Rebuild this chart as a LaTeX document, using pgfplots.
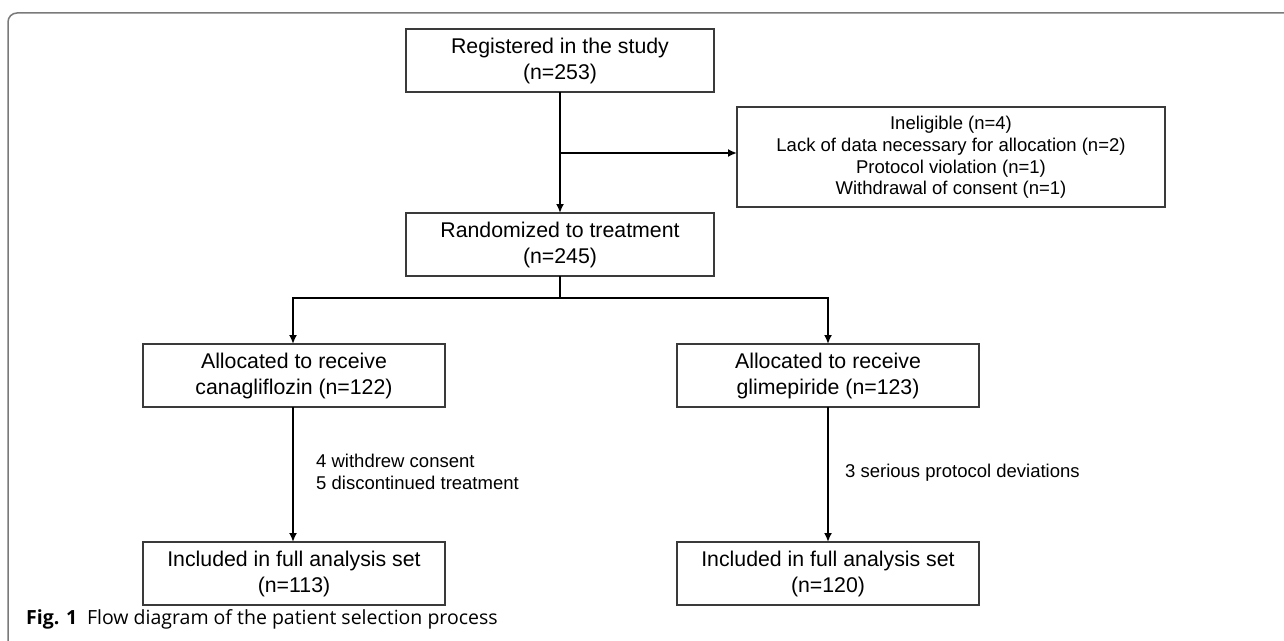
\documentclass[border=0pt]{standalone}
\usepackage{pgfplots}
\pgfplotsset{compat=1.18}
\usepackage{fontspec}
\setmainfont{Liberation Sans}
\newfontfamily\capfont{Open Sans}
\usetikzlibrary{arrows.meta}
\definecolor{boxc}{HTML}{3A3A3A}
\definecolor{framec}{HTML}{7A7A7A}
\begin{document}
\begin{tikzpicture}
\begin{axis}[scale only axis, width=1284bp, height=641bp,
  xmin=0, xmax=1284, ymin=0, ymax=641, y dir=reverse,
  hide axis, clip=false]
% outer frame
\draw[framec, line width=1.5bp, rounded corners=9bp] (axis cs:1290,13) -- (axis cs:8,13) -- (axis cs:8,650);
\tikzset{bx/.style={draw=boxc, line width=1.3bp},
  ar/.style={line width=2.8bp, -{Latex[length=9bp,width=8bp]}},
  big/.style={font=\fontsize{21.3bp}{26.5bp}\selectfont, align=center},
  small/.style={font=\fontsize{18.5bp}{21.8bp}\selectfont}}
% boxes
\draw[bx] (axis cs:406,29) rectangle (axis cs:714,92);
\node[big] at (axis cs:560,61) {Registered in the study\\(n=253)};
\draw[bx] (axis cs:737,107) rectangle (axis cs:1165,207);
\node[small, align=center] at (axis cs:951,157.5) {Ineligible (n=4)\\Lack of data necessary for allocation (n=2)\\Protocol violation (n=1)\\Withdrawal of consent (n=1)};
\draw[bx] (axis cs:406,213) rectangle (axis cs:714,276);
\node[big] at (axis cs:560,245) {Randomized to treatment\\(n=245)};
\draw[bx] (axis cs:143,344) rectangle (axis cs:445,407);
\node[big] at (axis cs:294,376) {Allocated to receive\\canagliflozin (n=122)};
\draw[bx] (axis cs:677,344) rectangle (axis cs:979,407);
\node[big] at (axis cs:828,376) {Allocated to receive\\glimepiride (n=123)};
\draw[bx] (axis cs:143,542) rectangle (axis cs:445,605);
\node[big] at (axis cs:294,574) {Included in full analysis set\\(n=113)};
\draw[bx] (axis cs:677,542) rectangle (axis cs:979,605);
\node[big] at (axis cs:828,574) {Included in full analysis set\\(n=120)};
% arrows
\draw[ar] (axis cs:560,92) -- (axis cs:560,213);
\draw[ar] (axis cs:560,153) -- (axis cs:737,153);
\draw[line width=2.8bp] (axis cs:560,276) -- (axis cs:560,298);
\draw[line width=2.8bp, {Latex[length=9bp,width=8bp]}-{Latex[length=9bp,width=8bp]}] (axis cs:293,344) -- (axis cs:293,298) -- (axis cs:828,298) -- (axis cs:828,344);
\draw[ar] (axis cs:293,407) -- (axis cs:293,542);
\draw[ar] (axis cs:828,407) -- (axis cs:828,542);
% side labels
\node[small, align=left, anchor=west, inner sep=0pt] at (axis cs:316,472) {4 withdrew consent\\5 discontinued treatment};
\node[small, anchor=west, inner sep=0pt] at (axis cs:845,473) {3 serious protocol deviations};
% caption
\node[anchor=west, inner sep=0pt, font=\capfont\fontsize{19.5bp}{22bp}\selectfont] at (axis cs:26,619) {\textbf{Fig. 1}\hspace{0.5em}Flow diagram of the patient selection process};
\end{axis}
\pgfresetboundingbox
\useasboundingbox (current axis.south west) rectangle (current axis.north east);
\end{tikzpicture}
\end{document}
